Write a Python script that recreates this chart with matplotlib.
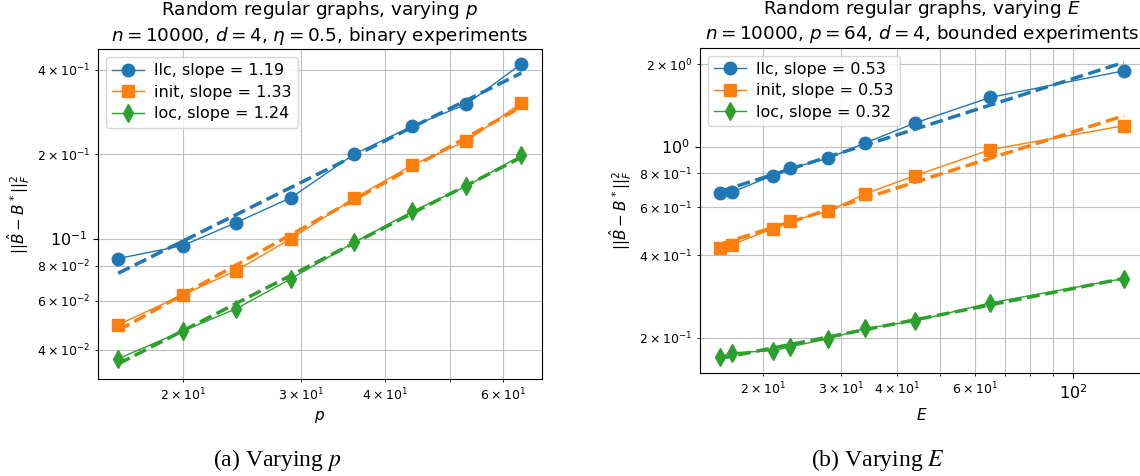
import matplotlib
matplotlib.use('Agg')
import matplotlib.pyplot as plt
import matplotlib.ticker as mticker
import numpy as np

# (a) varying p, binary experiments
p_vals = [16, 20, 24, 29, 36, 44, 53, 64]
llc_p = [0.0848, 0.0944, 0.114, 0.140, 0.200, 0.252, 0.302, 0.420]
init_p = [0.0492, 0.0630, 0.0768, 0.100, 0.139, 0.183, 0.223, 0.305]
loc_p = [0.0372, 0.0468, 0.0561, 0.0719, 0.0968, 0.125, 0.154, 0.198]
slopes_p = ['1.19', '1.33', '1.24']

# (b) varying E, bounded experiments
E_vals = [16, 17, 21, 23, 28, 34, 44, 65, 130]
llc_E = [0.677, 0.681, 0.783, 0.833, 0.906, 1.032, 1.221, 1.514, 1.895]
init_E = [0.426, 0.438, 0.500, 0.533, 0.580, 0.672, 0.783, 0.975, 1.193]
loc_E = [0.170, 0.176, 0.179, 0.185, 0.198, 0.216, 0.230, 0.268, 0.329]
slopes_E = ['0.53', '0.53', '0.32']

names = ['llc', 'init', 'loc']
markers = ['o', 's', 'd']
colors = ['tab:blue', 'tab:orange', 'tab:green']

fig = plt.figure(figsize=(11.4, 4.76), dpi=100)
ax1 = fig.add_axes([0.086, 0.204, 0.389, 0.693])
ax2 = fig.add_axes([0.614, 0.216, 0.3895, 0.684])


def minor_fmt(keep):
    # label only the minor ticks whose mantissa is in keep
    def f(v, pos=None):
        e = int(np.floor(np.log10(v) + 1e-9))
        m = int(round(v / 10 ** e))
        if m not in keep:
            return ''
        return r'$\mathdefault{%d\times10^{%d}}$' % (m, e)
    return mticker.FuncFormatter(f)


def draw(ax, x, ys, slopes, xlabel, title):
    x = np.array(x, dtype=float)
    for name, y, s, m, c in zip(names, ys, slopes, markers, colors):
        y = np.array(y)
        ax.plot(x, y, marker=m, color=c, lw=1, ms=9,
                label='{0}, slope = {1}'.format(name, s))
        # least squares fit in log-log space
        k, b = np.polyfit(np.log(x), np.log(y), 1)
        xf = np.array([x.min(), x.max()])
        ax.plot(xf, np.exp(b) * xf ** k, '--', color=c, lw=2.5)
    ax.set_xscale('log')
    ax.set_yscale('log')
    ax.xaxis.set_minor_formatter(minor_fmt({2, 3, 4, 6}))
    ax.yaxis.set_major_locator(mticker.LogLocator(base=10))
    ax.yaxis.set_minor_locator(mticker.LogLocator(base=10, subs=(2, 4, 6, 8)))
    ax.yaxis.set_minor_formatter(minor_fmt({2, 4, 6, 8}))
    ax.grid(True, which='both', color='#b0b0b0', lw=0.8, alpha=0.8)
    ax.tick_params(which='both', labelsize=9)
    ax.tick_params(which='major', labelsize=11.5)
    ax.set_xlabel(xlabel, fontsize=11)
    ax.set_ylabel(r'$||\hat{B} - B^*||_F^2$', fontsize=11)
    ax.set_title(title, fontsize=13.2)
    ax.legend(loc='upper left', fontsize=11.5, labelspacing=0.4,
              handletextpad=0.6)


draw(ax1, p_vals, [llc_p, init_p, loc_p], slopes_p, '$p$',
     'Random regular graphs, varying $p$\n'
     r'$n = 10000$, $d = 4$, $\eta = 0.5$, binary experiments')
draw(ax2, E_vals, [llc_E, init_E, loc_E], slopes_E, '$E$',
     'Random regular graphs, varying $E$\n'
     r'$n = 10000$, $p = 64$, $d = 4$, bounded experiments')

fig.text(0.243, 0.02, '(a) Varying $p$', ha='center', fontsize=17,
         family='Liberation Serif', math_fontfamily='stix')
fig.text(0.770, 0.02, '(b) Varying $E$', ha='center', fontsize=17,
         family='Liberation Serif', math_fontfamily='stix')

fig.savefig('out.png', dpi=100)
